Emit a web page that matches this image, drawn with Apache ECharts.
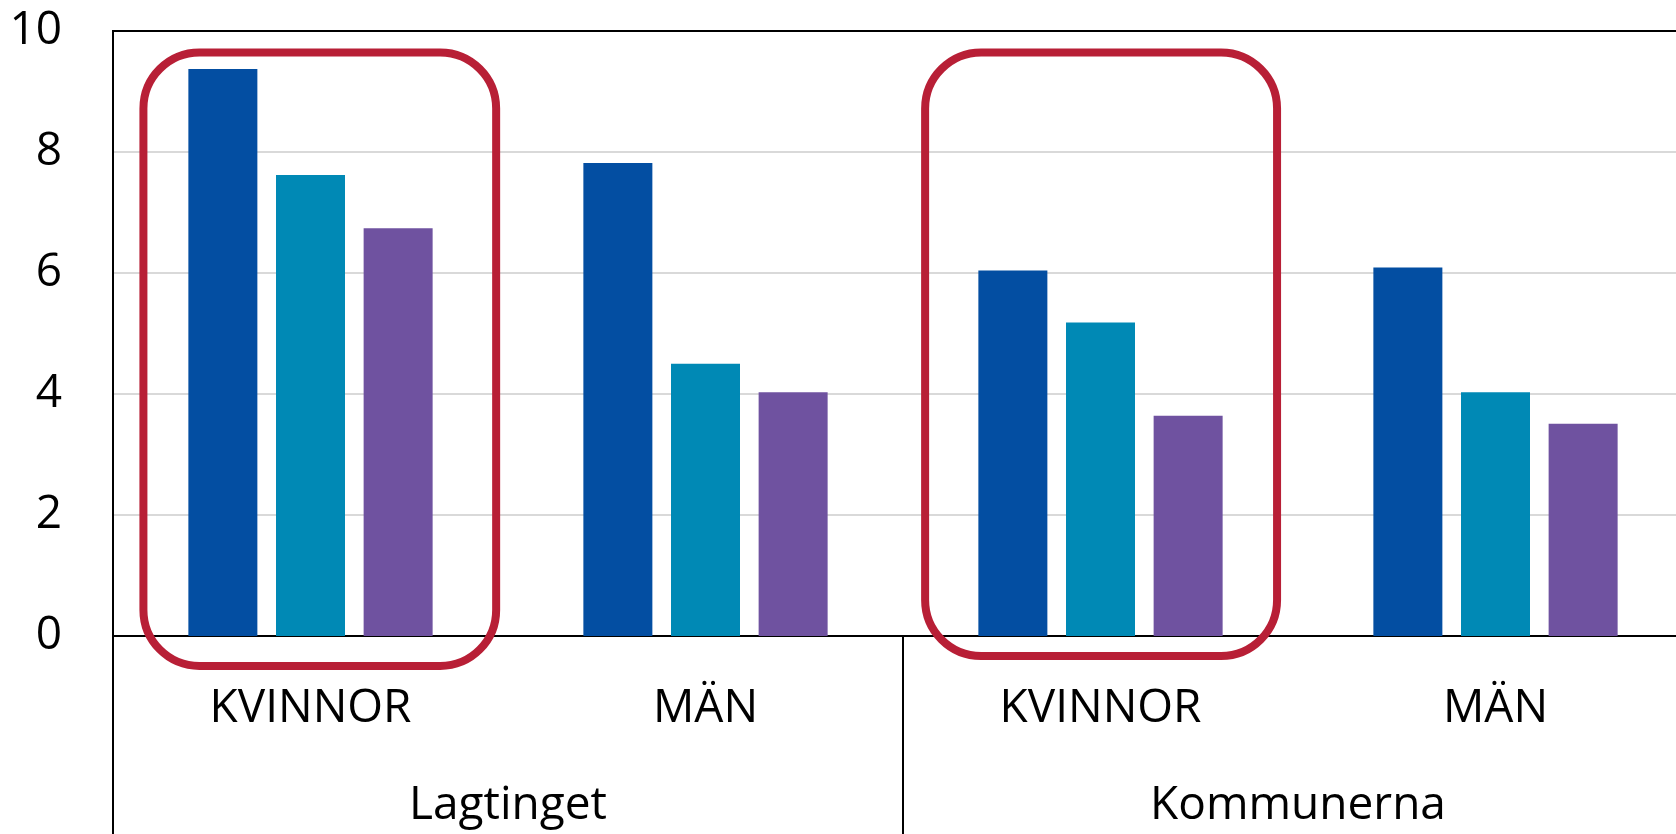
<!DOCTYPE html>
<html>
<head>
<meta charset="utf-8">
<script src="https://cdn.jsdelivr.net/npm/echarts@6.0.0/dist/echarts.min.js"></script>
<style>
  html, body { margin: 0; padding: 0; background: #fff; }
  #chart { width: 1676px; height: 834px; }
</style>
</head>
<body>
<div id="chart"></div>
<script>
// ---- data ----
const categories = ['KVINNOR', 'MÄN', 'KVINNOR', 'MÄN'];
const groups = ['Lagtinget', 'Kommunerna'];
const seriesA = [9.37, 7.82, 6.04, 6.09];
const seriesB = [7.62, 4.50, 5.18, 4.03];
const seriesC = [6.74, 4.03, 3.64, 3.51];
const yTicks = { min: 0, max: 10, interval: 2 };
const seriesNames = ['Serie 1', 'Serie 2', 'Serie 3'];
const colors = ['#034EA2', '#0089B5', '#6F52A0'];
// highlighted category boxes (category index, band offsets, value extents)
const highlightCats = [0, 2];
const highlightFrom = [-0.423, -0.444];
const highlightTo = [0.47, 0.447];
const highlightTop = [9.645, 9.645];
const highlightBottom = [-0.495, -0.33];

const FONT = 'Open Sans';
const chart = echarts.init(document.getElementById('chart'), null, { renderer: 'canvas' });

const option = {
  animation: false,
  backgroundColor: '#ffffff',
  grid: {
    left: 113, top: 31, width: 1580, bottom: 198,
    outerBoundsMode: 'none',
    show: true, borderColor: '#000', borderWidth: 2, backgroundColor: 'transparent'
  },
  xAxis: [
    {
      type: 'category', data: categories, position: 'bottom',
      axisLine: { show: true, lineStyle: { color: '#000', width: 2 } },
      axisTick: { show: false },
      axisLabel: { color: '#000', fontFamily: FONT, fontSize: 46, margin: 50 }
    },
    {
      type: 'category', data: groups, position: 'bottom',
      axisLine: { show: false },
      axisTick: { show: true, length: 200, lineStyle: { color: '#000', width: 2 } },
      axisLabel: { color: '#000', fontFamily: FONT, fontSize: 46, margin: 147 }
    }
  ],
  yAxis: {
    type: 'value', min: yTicks.min, max: yTicks.max, interval: yTicks.interval,
    axisLine: { show: true, lineStyle: { color: '#000', width: 2 } },
    axisTick: { show: false },
    axisLabel: { color: '#000', fontFamily: FONT, fontSize: 46, margin: 51 },
    splitLine: { show: true, showMaxLine: false, showMinLine: false, lineStyle: { color: '#d9d9d9', width: 2 } }
  },
  series: [seriesA, seriesB, seriesC].map((d, i) => ({
    name: seriesNames[i], type: 'bar', data: d, xAxisIndex: 0,
    barWidth: 69, barGap: '27%',
    itemStyle: { color: colors[i] }
  }))
};
chart.setOption(option);

// red rounded highlight boxes placed via the chart's own scales
const x0 = chart.convertToPixel({ xAxisIndex: 0 }, 0);
const x1 = chart.convertToPixel({ xAxisIndex: 0 }, 1);
const band = x1 - x0;
const boxes = highlightCats.map((c, i) => {
  const cx = chart.convertToPixel({ xAxisIndex: 0 }, c);
  const left = cx + highlightFrom[i] * band;
  const right = cx + highlightTo[i] * band;
  const top = chart.convertToPixel({ yAxisIndex: 0 }, highlightTop[i]);
  const bottom = chart.convertToPixel({ yAxisIndex: 0 }, highlightBottom[i]);
  return {
    type: 'rect', z: 100,
    shape: { x: left, y: top, width: right - left, height: bottom - top, r: 56 },
    style: { fill: 'none', stroke: '#B81F36', lineWidth: 8 }
  };
});
chart.setOption({ graphic: boxes });
</script>
</body>
</html>
